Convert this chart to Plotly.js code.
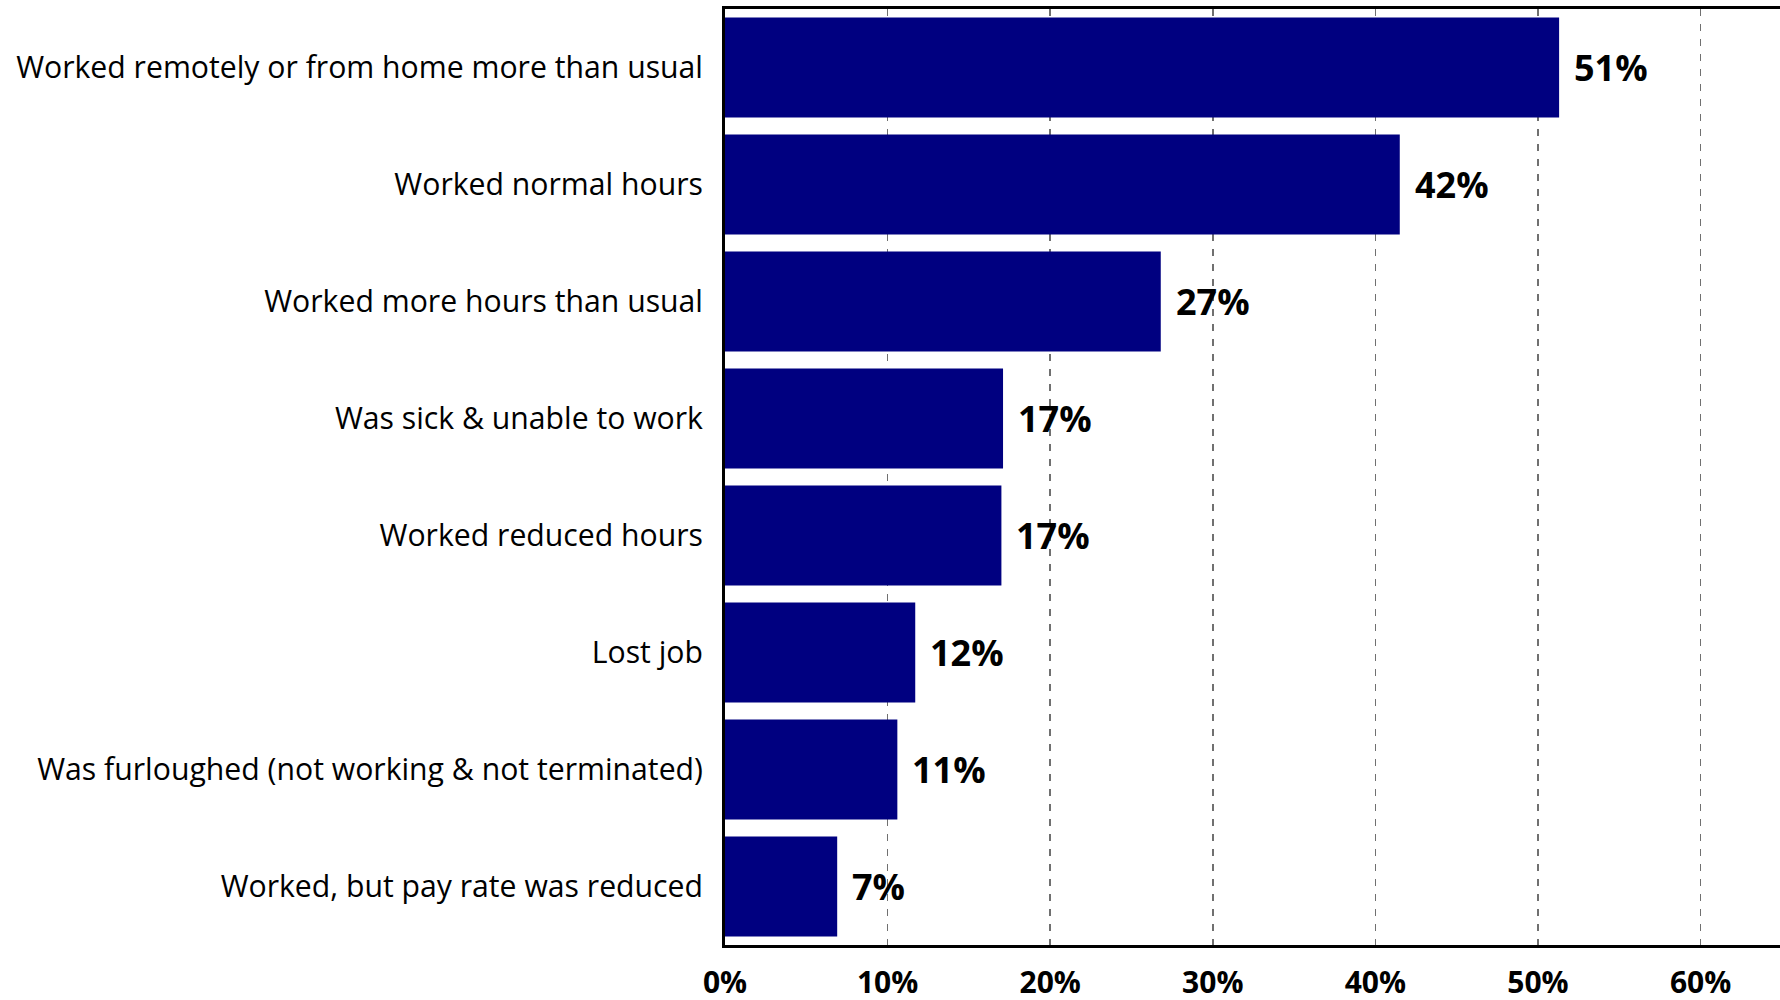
<!DOCTYPE html>
<html>
<head>
<meta charset="utf-8">
<script src="https://cdn.plot.ly/plotly-3.0.1.min.js"></script>
<style>
html,body{margin:0;padding:0;overflow:hidden;background:#fff;width:1780px;height:1000px;}
#chart{width:1800px;height:1000px;}
</style>
</head>
<body>
<div id="chart"></div>
<script>
const categories = [
  "Worked remotely or from home more than usual",
  "Worked normal hours",
  "Worked more hours than usual",
  "Was sick & unable to work",
  "Worked reduced hours",
  "Lost job",
  "Was furloughed (not working & not terminated)",
  "Worked, but pay rate was reduced"
];
const values = [51.3, 41.5, 26.8, 17.1, 17.0, 11.7, 10.6, 6.9];
const valueLabels = ["51%", "42%", "27%", "17%", "17%", "12%", "11%", "7%"];
const tickValues = [0, 10, 20, 30, 40, 50, 60];
const tickLabels = ["0%", "10%", "20%", "30%", "40%", "50%", "60%"];

const trace = {
  type: "bar",
  orientation: "h",
  y: categories,
  x: values,
  marker: {color: "#000080"},
  hoverinfo: "skip"
};

const annotations = categories.map((c, i) => ({
  x: values[i],
  y: c,
  xref: "x",
  yref: "y",
  text: valueLabels[i],
  showarrow: false,
  xanchor: "left",
  yanchor: "middle",
  xshift: 13,
  font: {family: "Open Sans", size: 36, color: "#000", weight: "bold"}
}));

const layout = {
  width: 1800,
  height: 1000,
  paper_bgcolor: "#fff",
  plot_bgcolor: "#fff",
  margin: {l: 725, r: 10, t: 9, b: 55},
  bargap: 0.147,
  showlegend: false,
  xaxis: {
    range: [0, 65.5],
    tickvals: tickValues,
    ticktext: tickLabels,
    showgrid: true,
    gridcolor: "#707070",
    gridwidth: 1.5,
    griddash: "7px,8px",
    zeroline: false,
    showline: true,
    linecolor: "#000",
    linewidth: 3,
    mirror: true,
    ticks: "",
    ticklabelstandoff: 9,
    tickfont: {family: "Open Sans", size: 30, color: "#000", weight: "bold"},
    fixedrange: true
  },
  yaxis: {
    autorange: "reversed",
    showgrid: false,
    zeroline: false,
    showline: true,
    linecolor: "#000",
    linewidth: 3,
    mirror: true,
    ticks: "",
    ticklabelstandoff: 13,
    tickfont: {family: "Open Sans", size: 30.2, color: "#000"},
    fixedrange: true
  },
  annotations: annotations
};

Plotly.newPlot("chart", [trace], layout, {displayModeBar: false, staticPlot: true});
</script>
</body>
</html>
